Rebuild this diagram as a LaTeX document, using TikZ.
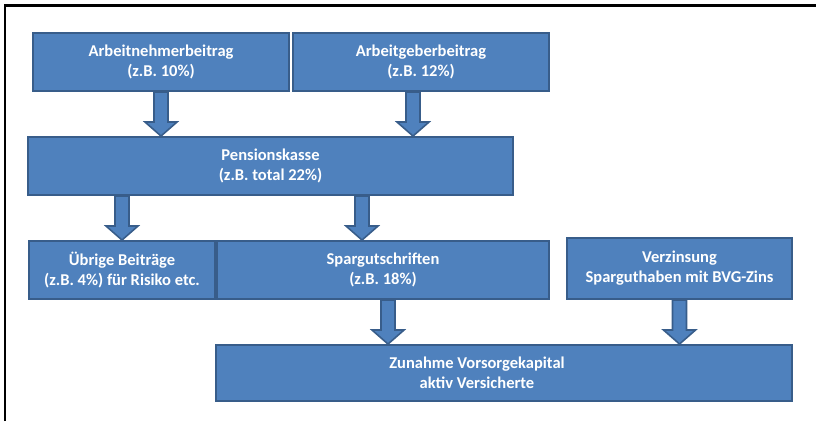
\documentclass[tikz,border=0pt]{standalone}
\usepackage{fontspec}
\setmainfont{Carlito}
\usepackage{xcolor}
\usepackage{tikz}
\usetikzlibrary{calc}
\definecolor{PKBlue}{HTML}{4F81BD}
\definecolor{PKLine}{HTML}{385D8A}

\tikzset{
  pkbox/.style={rectangle,fill=PKBlue,draw=PKLine,line width=1.1pt,inner sep=0pt,
    align=center,text=white,font=\fontsize{9.4}{11.4}\selectfont\bfseries},
  pktext/.style={align=center,text=white,font=\fontsize{9.4}{11.4}\selectfont\bfseries},
  pkarrow/.style={fill=PKBlue,draw=PKLine,line width=0.9pt,line join=miter}
}
% block arrow: x and top from #1, tip height from #2
\newcommand{\flowarrow}[2]{%
  \draw[pkarrow] let \p1=#1, \p2=#2 in
    (\x1-0.14cm,\y1) -- (\x1-0.14cm,\y2+0.28cm) -- (\x1-0.32cm,\y2+0.28cm) -- (\x1,\y2)
    -- (\x1+0.32cm,\y2+0.28cm) -- (\x1+0.14cm,\y2+0.28cm) -- (\x1+0.14cm,\y1) -- cycle;}

\begin{document}
\begin{tikzpicture}[x=1cm,y=1cm]
\path[use as bounding box] (0,0) rectangle (16.32,8.42);
\draw[black,line width=1.2pt] (0.10,0) -- (0.10,8.31) -- (16.32,8.31);
\node[pkbox,minimum width=5.12cm,minimum height=1.16cm] (an) at (3.22,7.18) {Arbeitnehmerbeitrag\\(z.B. 10\%)};
\node[pkbox,minimum width=5.12cm,minimum height=1.16cm] (ag) at (8.42,7.18) {Arbeitgeberbeitrag\\(z.B. 12\%)};
\node[pkbox,minimum width=9.70cm,minimum height=1.16cm] (pk) at (5.41,5.10) {Pensionskasse\\(z.B. total 22\%)};
\node[pkbox,minimum width=3.72cm,minimum height=1.16cm] (ub) at (2.44,3.02) {Übrige Beiträge\\(z.B. 4\%) für Risiko etc.};
\node[pkbox,minimum width=6.64cm,minimum height=1.16cm] (sg) at (7.66,3.02) {Spargutschriften\\(z.B. 18\%)};
\node[pkbox,minimum width=4.50cm,minimum height=1.22cm] (vz) at (13.59,3.05) {Verzinsung\\Sparguthaben mit BVG-Zins};
\node[pkbox,minimum width=11.52cm,minimum height=1.12cm] (zk) at (10.08,0.96) {};
\node[pktext] (zktext) at ([xshift=-0.54cm]zk.center) {Zunahme Vorsorgekapital\\aktiv Versicherte};
\flowarrow{(an.south)}{(pk.north)}
\flowarrow{([xshift=-0.16cm]ag.south)}{(pk.north)}
\flowarrow{(ub.north |- pk.south)}{(ub.north)}
\flowarrow{([xshift=-0.42cm]sg.north |- pk.south)}{(sg.north)}
\flowarrow{([xshift=0.10cm]sg.south)}{(zk.north)}
\flowarrow{(vz.south)}{(zk.north)}
\end{tikzpicture}
\end{document}
